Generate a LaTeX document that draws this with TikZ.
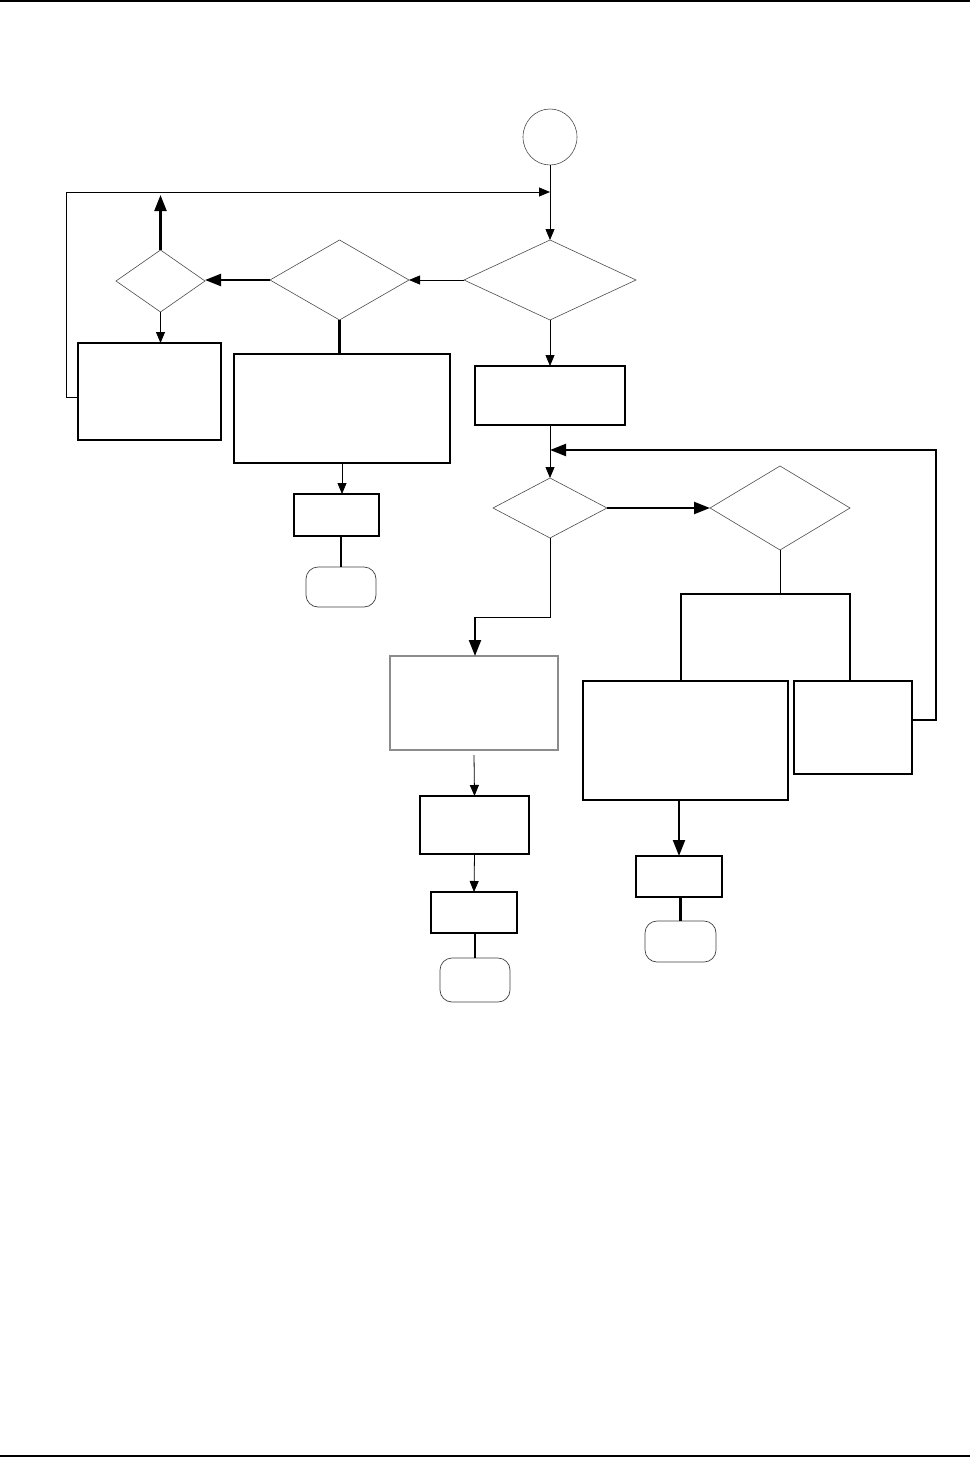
\documentclass[tikz,border=0pt]{standalone}
\usetikzlibrary{shapes.geometric,arrows.meta}

\tikzset{
  box/.style={draw, line width=1.2pt, inner sep=0pt, outer sep=0pt},
  greybox/.style={box, draw=black!45},
  decision/.style={diamond, draw=black!70, line width=0.6pt, inner sep=0pt, outer sep=0pt},
  startcircle/.style={ellipse, draw=black!70, line width=0.6pt, inner sep=0pt, outer sep=0pt},
  terminal/.style={draw=black!75, line width=0.7pt, rounded corners=12pt, inner sep=0pt, outer sep=0pt},
  wire/.style={line width=0.8pt},
  wirethick/.style={line width=2.2pt},
  flow/.style={wire, -{Triangle[length=11pt,width=9pt]}},
  flowthick/.style={wirethick, -{Triangle[length=16pt,width=12pt]}},
}

\begin{document}
\begin{tikzpicture}[x=1pt, y=-1pt]
  \useasboundingbox (0,0) rectangle (970,1458);

  % page rules
  \draw[line width=2.5pt] (0,1) -- (970,1);
  \draw[line width=2.5pt] (0,1456) -- (970,1456);

  % main column
  \node[startcircle, minimum width=54pt, minimum height=56pt] (start) at (550,137) {};
  \coordinate (join) at (550,192);
  \node[decision, minimum width=172pt, minimum height=80pt] (d1) at (550,280) {};
  \node[box, minimum width=150pt, minimum height=59pt] (boxR) at (550,395.5) {};
  \coordinate (merge) at (550,450);
  \node[decision, minimum width=114pt, minimum height=60pt] (d4) at (550,508) {};

  % left branch
  \node[decision, minimum width=139pt, minimum height=80pt] (d2) at (339.5,280) {};
  \node[decision, minimum width=89pt, minimum height=62pt] (d3) at (160.5,281) {};
  \coordinate (upend) at (160.5,195);
  \node[box, minimum width=143pt, minimum height=97pt] (boxL) at (149.5,391.5) {};
  \node[box, minimum width=216pt, minimum height=109pt] (boxM) at (342,408.5) {};
  \node[box, minimum width=85pt, minimum height=42pt] (s1) at (336.5,515) {};
  \node[terminal, minimum width=70pt, minimum height=40pt] (t1) at (341,587) {};

  % right branch
  \node[decision, minimum width=140pt, minimum height=84pt] (d5) at (780,508) {};
  \coordinate (split) at (780,594);
  \node[box, minimum width=205pt, minimum height=119pt] (b1) at (685.5,740.5) {};
  \node[box, minimum width=118pt, minimum height=93pt] (b2) at (853,727.5) {};
  \node[box, minimum width=86pt, minimum height=41pt] (s3) at (679,876.5) {};
  \node[terminal, minimum width=71pt, minimum height=41pt] (t3) at (680.5,941.5) {};

  % lower middle branch
  \coordinate (bend) at (475,617);
  \node[greybox, minimum width=168pt, minimum height=94pt] (boxG) at (474,703) {};
  \node[box, minimum width=109pt, minimum height=58pt] (s2a) at (474.5,825) {};
  \node[box, minimum width=86pt, minimum height=41pt] (s2b) at (474,912.5) {};
  \node[terminal, minimum width=70pt, minimum height=44pt] (t2) at (475,980) {};

  % connectors, main column
  \draw[flow] (start) -- (d1.north);
  \draw[flow] ([yshift=-5.5pt]boxL.west) -- ++(-12,0) |- (join);
  \draw[flow] (d1.south) -- (boxR.north);
  \draw[flow] (boxR.south) -- (d4.north);
  \draw[flow] (d1.west) -- (d2.east);

  % connectors, left
  \draw[flowthick] (d2.west) -- (d2.west -| d3.east);
  \draw[flowthick] (d3.north) -- (upend);
  \draw[flow] (d3.south) -- (d3.south |- boxL.north);
  \draw[wirethick] (d2.south) -- (d2.south |- boxM.north);
  \draw[flow] (boxM.south) -- (boxM.south |- s1.north);
  \draw[wirethick] (s1.south -| t1.north) -- (t1.north);

  % connectors, right
  \draw[flowthick] (d4.east) -- (d5.west);
  \draw[wire] (d5.south) -- (split);
  \draw[wirethick] ([xshift=-4.5pt]b1.north) |- (split) -| ([xshift=-3pt]b2.north);
  \draw[flowthick] ([yshift=7.5pt]b2.east) -- ++(24,0) |- (merge);
  \draw[flowthick] (s3.north |- b1.south) -- (s3.north);
  \draw[wirethick] (s3.south -| t3.north) -- (t3.north);

  % connectors, lower middle
  \draw[wire] (d4.south) |- (bend);
  \draw[flowthick] (bend) -- (bend |- boxG.north);
  \draw[flow] ([yshift=-5pt]boxG.south) -- (s2a.north);
  \draw[flow] (s2a.south) -- (s2b.north);
  \draw[wirethick] (t2.north |- s2b.south) -- (t2.north);
\end{tikzpicture}
\end{document}
